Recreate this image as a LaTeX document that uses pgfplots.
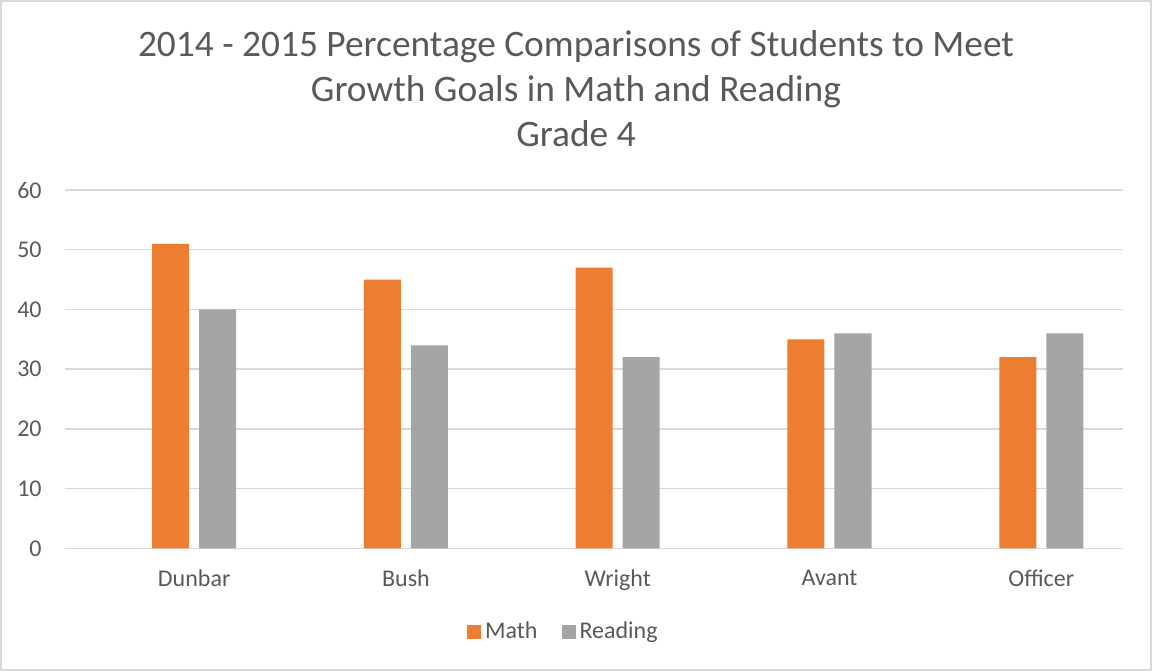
\documentclass[border=0pt]{standalone}
\usepackage{fontspec}
\setmainfont{Carlito}
\usepackage{pgfplots}
\pgfplotsset{compat=1.18}
\definecolor{cMath}{HTML}{ED7D31}
\definecolor{cRead}{HTML}{A5A5A5}
\definecolor{cGrid}{HTML}{D9D9D9}
\definecolor{cText}{HTML}{595959}

\begin{document}
\begin{tikzpicture}
\useasboundingbox (0pt,0pt) rectangle (576pt,335.5pt);
\draw[cGrid, line width=1pt] (0.5pt,0.5pt) rectangle (575.5pt,335pt);

% title, three lines
\node[anchor=base, font=\fontsize{18.7}{22}\selectfont, text=cText] at (288pt,307pt)
  {2014 - 2015 Percentage Comparisons of Students to Meet};
\node[anchor=base, font=\fontsize{18.7}{22}\selectfont, text=cText] at (288pt,284.5pt)
  {Growth Goals in Math and Reading};
\node[anchor=base, font=\fontsize{18.7}{22}\selectfont, text=cText] at (288pt,262pt)
  {Grade 4};

\begin{axis}[
  at={(32.5pt,61.35pt)}, anchor=south west,
  scale only axis, width=529pt, height=179.15pt,
  ybar=5pt, bar width=18.5pt,
  xmin=-0.61, xmax=4.386, ymin=0, ymax=60,
  xtick=data, xticklabels={Dunbar,Bush,Wright,Avant,Officer},
  ytick={0,10,...,60},
  axis line style={draw=none},
  major tick length=0pt,
  ymajorgrids, grid style={cGrid, line width=0.75pt},
  tick label style={font=\fontsize{12}{14}\selectfont, text=cText},
  /pgf/number format/assume math mode=true,
  yticklabel style={inner sep=0pt, xshift=-11.5pt},
  xticklabel style={inner sep=0pt, anchor=north, yshift=-10.5pt},
  legend style={at={(0.472,-0.2336)}, anchor=center, draw=none,
    font=\fontsize{12}{14}\selectfont, text=cText,
    /tikz/every even column/.append style={column sep=10pt}},
  legend columns=2,
  legend image code/.code={\fill[#1] (-2pt,-3.5pt) rectangle (5pt,3.5pt);},
]
\addplot[fill=cMath, draw=none] coordinates {(0,51) (1,45) (2,47) (3,35) (4,32)};
\addlegendentry{Math}
\addplot[fill=cRead, draw=none] coordinates {(0,40) (1,34) (2,32) (3,36) (4,36)};
\addlegendentry{Reading}
\end{axis}
\end{tikzpicture}
\end{document}
